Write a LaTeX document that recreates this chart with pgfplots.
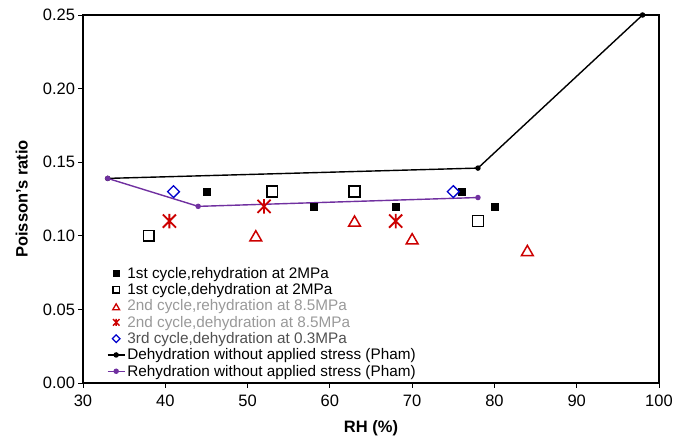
\documentclass[border=0pt]{standalone}
\usepackage{pgfplots}
\pgfplotsset{compat=1.18}
\usepackage{fontspec}
\setmainfont{Liberation Sans}
\definecolor{dred}{HTML}{CC0000}
\definecolor{dblue}{HTML}{0000CC}
\definecolor{purp}{HTML}{7030A0}
\definecolor{lgray}{HTML}{999999}
\definecolor{mgray}{HTML}{505050}
\pgfdeclareplotmark{xstar}{%
  \pgfpathmoveto{\pgfqpoint{0pt}{\pgfplotmarksize}}%
  \pgfpathlineto{\pgfqpoint{0pt}{-\pgfplotmarksize}}%
  \pgfpathmoveto{\pgfqpoint{-0.9\pgfplotmarksize}{0.9\pgfplotmarksize}}%
  \pgfpathlineto{\pgfqpoint{0.9\pgfplotmarksize}{-0.9\pgfplotmarksize}}%
  \pgfpathmoveto{\pgfqpoint{-0.9\pgfplotmarksize}{-0.9\pgfplotmarksize}}%
  \pgfpathlineto{\pgfqpoint{0.9\pgfplotmarksize}{0.9\pgfplotmarksize}}%
  \pgfusepathqstroke}
\begin{document}
\begin{tikzpicture}
\begin{axis}[
  scale only axis, width=576pt, height=368pt,
  xmin=30, xmax=100, ymin=0, ymax=0.25,
  xtick={30,40,50,60,70,80,90,100},
  ytick={0,0.05,0.1,0.15,0.2,0.25},
  tick align=outside, tick pos=left, major tick length=4.5pt,
  axis line style={line width=1.2pt},
  tick style={black, line width=0.8pt},
  /pgf/number format/assume math mode=true,
  yticklabel style={/pgf/number format/fixed, /pgf/number format/fixed zerofill, /pgf/number format/precision=2},
  xticklabel style={yshift=-3.5pt},
  ticklabel style={font=\fontsize{16.5}{19}\selectfont},
  xlabel={RH (\%)}, ylabel={Poisson's ratio},
  every axis x label/.style={at={(rel axis cs:0.5,-0.122)}, anchor=center, font=\fontsize{16.5}{19}\selectfont\bfseries},
  every axis y label/.style={at={(rel axis cs:-0.1064,0.5)}, rotate=90, anchor=center, font=\fontsize{16.5}{19}\selectfont\bfseries},
  legend style={draw=none, fill=none, at={(rel axis cs:0.036,0.326)}, anchor=north west,
    font=\fontsize{15.3}{18}\selectfont, row sep=-0.3pt},
  legend cell align=left,
  clip=false,
]
\addplot[only marks, mark=square*, mark size=3.5pt, black,
  legend image post style={mark size=3pt}] coordinates {
  (45,0.13) (58,0.12) (68,0.12) (76,0.13) (80,0.12)};
\addlegendentry{1st cycle,rehydration at 2MPa}
\addplot[only marks, mark=square, mark size=5.4pt, black, line width=1.5pt,
  legend image post style={mark size=3.3pt, line width=1.3pt}] coordinates {
  (38,0.10) (53,0.13) (63,0.13) (78,0.11)};
\addlegendentry{1st cycle,dehydration at 2MPa}
\addplot[only marks, mark=triangle, mark size=6.8pt, dred, line width=1.5pt, mark options={yshift=-1.7pt},
  legend image post style={mark size=4pt, line width=1.3pt}] coordinates {
  (51,0.10) (63,0.11) (70,0.098) (84,0.09)};
\addlegendentry{\textcolor{lgray}{2nd cycle,rehydration at 8.5MPa}}
\addplot[only marks, mark=xstar, mark size=7.3pt, dred, line width=1.8pt,
  legend image post style={mark size=3.6pt, line width=1.4pt}] coordinates {
  (40.5,0.11) (52,0.12) (68,0.11)};
\addlegendentry{\textcolor{lgray}{2nd cycle,dehydration at 8.5MPa}}
\addplot[only marks, mark=square, mark size=4.2pt, dblue, line width=1.3pt, mark options={rotate=45},
  legend image post style={mark size=2.7pt, line width=1.2pt}] coordinates {
  (41,0.13) (75,0.13)};
\addlegendentry{\textcolor{mgray}{3rd cycle,dehydration at 0.3MPa}}
\addplot[black, line width=1.4pt, mark=*, mark size=2pt] coordinates {
  (33,0.139) (78,0.146) (98,0.25)};
\addlegendentry{Dehydration without applied stress (Pham)}
\addplot[purp, line width=1.4pt, mark=*, mark size=2pt] coordinates {
  (33,0.139) (44,0.12) (78,0.126)};
\addlegendentry{Rehydration without applied stress (Pham)}
\end{axis}
\pgfresetboundingbox
\path[use as bounding box] (-83pt,-57pt) rectangle (607pt,383pt);
\end{tikzpicture}
\end{document}
